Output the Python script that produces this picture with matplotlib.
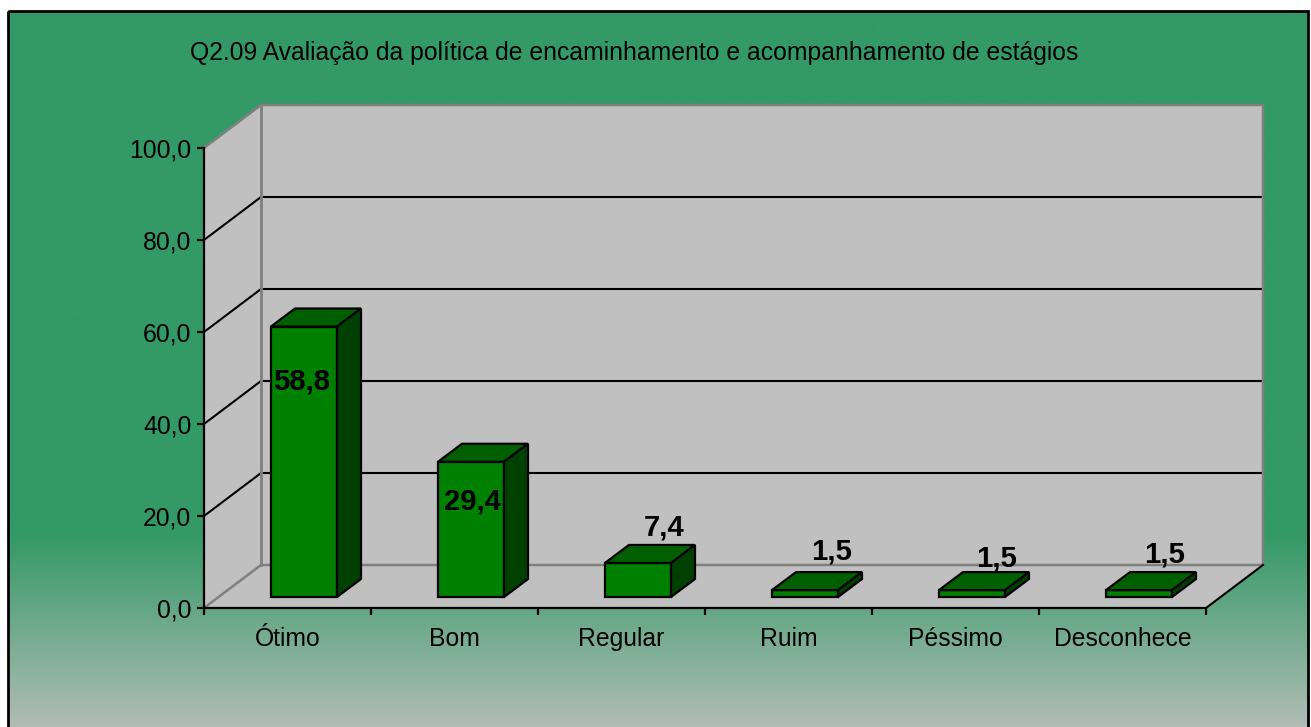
import numpy as np
import matplotlib.pyplot as plt
from matplotlib.patches import Polygon, Rectangle
from matplotlib.colors import LinearSegmentedColormap

plt.rcParams['font.family'] = ['Liberation Sans', 'DejaVu Sans']

title = 'Q2.09 Avaliação da política de encaminhamento e acompanhamento de estágios'
categories = ['Ótimo', 'Bom', 'Regular', 'Ruim', 'Péssimo', 'Desconhece']
values = [58.8, 29.4, 7.4, 1.5, 1.5, 1.5]
value_labels = ['58,8', '29,4', '7,4', '1,5', '1,5', '1,5']
yticks = [0, 20, 40, 60, 80, 100]
ytick_labels = ['0,0', '20,0', '40,0', '60,0', '80,0', '100,0']

# label offsets from the top of each bar, in pixels
label_dx = [-2, 1, 26, 27, 25, 26]
label_dy = [-55, -40, 35, 39, 32, 36]

W, H = 1311, 727
fig = plt.figure(figsize=(W / 100, H / 100), dpi=100, facecolor='white')

# background panel with the gradient
bg = fig.add_axes([0, 0, 1, 1])
bg.set_xlim(0, W)
bg.set_ylim(H, 0)
bg.axis('off')
cmap = LinearSegmentedColormap.from_list('bg', [(0, '#339966'), (0.73, '#339966'), (1, '#B2BDB6')])
grad = np.linspace(0, 1, 256).reshape(-1, 1)
im = bg.imshow(grad, cmap=cmap, extent=[8, 1308, H + 2, 11], aspect='auto', zorder=1)
bg.set_xlim(0, W)
bg.set_ylim(H, 0)
bg.add_patch(Rectangle((8, 11), 1300, H + 10, fill=False, edgecolor='black', linewidth=2, zorder=2, clip_on=True))

# plot area, front plane of the 3D box
ax = fig.add_axes([204 / W, (H - 608) / H, 1002 / W, 460 / H])
ax.patch.set_visible(False)
ax.set_xlim(0, 6)
ax.set_ylim(0, 100)

px = 6 / 1002    # data units per pixel in x
py = 100 / 460   # data units per pixel in y
wall_dx = 57 * px
wall_dy = 43 * py
grey = '#808080'
wall = '#C0C0C0'

ax.add_patch(Polygon([(0, 0), (0, 100), (wall_dx, 100 + wall_dy), (wall_dx, wall_dy)],
                     facecolor=wall, edgecolor='none', clip_on=False, zorder=1))
ax.add_patch(Polygon([(wall_dx, wall_dy), (wall_dx, 100 + wall_dy), (6 + wall_dx, 100 + wall_dy), (6 + wall_dx, wall_dy)],
                     facecolor=wall, edgecolor='none', clip_on=False, zorder=1))
ax.add_patch(Polygon([(0, 0), (wall_dx, wall_dy), (6 + wall_dx, wall_dy), (6, 0)],
                     facecolor=wall, edgecolor='none', clip_on=False, zorder=1))

for t in yticks[1:-1]:
    ax.plot([0, wall_dx, 6 + wall_dx], [t, t + wall_dy, t + wall_dy], color='black', lw=1.5, clip_on=False, zorder=2)

# grey edges of the walls
ax.plot([0, wall_dx, 6 + wall_dx, 6 + wall_dx], [100, 100 + wall_dy, 100 + wall_dy, wall_dy],
        color=grey, lw=1.8, clip_on=False, zorder=3)
ax.plot([0, wall_dx, 6 + wall_dx], [0, wall_dy, wall_dy], color=grey, lw=1.8, clip_on=False, zorder=3)
ax.plot([wall_dx, wall_dx], [wall_dy, 100 + wall_dy], color=grey, lw=2, clip_on=False, zorder=3)
ax.plot([6, 6 + wall_dx], [0, wall_dy], color='black', lw=1.5, clip_on=False, zorder=3)

# bars
bar_w = 66 * px
bar_dx = 24 * px
bar_dy = 18 * py
base_dx = 16.5 * px
base_dy = 11 * py
for i, v in enumerate(values):
    x0 = i + 0.5 + base_dx - bar_w / 2
    x1 = x0 + bar_w
    y0 = base_dy
    y1 = base_dy + v
    ax.add_patch(Polygon([(x0, y0), (x1, y0), (x1, y1), (x0, y1)], facecolor='#008000',
                         edgecolor='black', lw=1.6, clip_on=False, zorder=4, joinstyle='miter'))
    ax.add_patch(Polygon([(x0, y1), (x1, y1), (x1 + bar_dx, y1 + bar_dy), (x0 + bar_dx, y1 + bar_dy)], facecolor='#006000',
                         edgecolor='black', lw=1.6, clip_on=False, zorder=4, joinstyle='miter'))
    ax.add_patch(Polygon([(x1, y0), (x1 + bar_dx, y0 + bar_dy), (x1 + bar_dx, y1 + bar_dy), (x1, y1)], facecolor='#004000',
                         edgecolor='black', lw=1.6, clip_on=False, zorder=4, joinstyle='miter'))
    ax.annotate(value_labels[i], xy=((x0 + x1) / 2, y1), xytext=(label_dx[i] * 0.72, label_dy[i] * 0.72),
                textcoords='offset points', ha='center', va='center', fontsize=21.2,
                fontweight='bold', color='black', zorder=6, annotation_clip=False)

# axes
for s in ['top', 'right']:
    ax.spines[s].set_visible(False)
for s in ['left', 'bottom']:
    ax.spines[s].set_linewidth(1.6)
    ax.spines[s].set_zorder(5)
ax.set_yticks(yticks)
ax.set_yticklabels(ytick_labels, fontsize=17.8, color='black')
ax.set_xticks(np.arange(7))
ax.set_xticklabels([])
ax.set_xticks(np.arange(6) + 0.5, minor=True)
ax.set_xticklabels(categories, minor=True, fontsize=17.8, color='black')
ax.tick_params(axis='y', length=5, width=1.6, pad=4)
ax.tick_params(axis='x', which='major', length=5, width=1.6)
ax.tick_params(axis='x', which='minor', length=0, pad=14)

fig.text(190 / W, 1 - 53 / H, title, fontsize=17.8, color='black', ha='left', va='center')

fig.savefig('out.png', dpi=100, facecolor='white')
